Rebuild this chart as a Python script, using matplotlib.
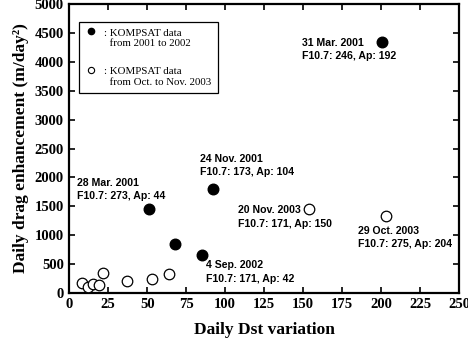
import matplotlib
matplotlib.use("Agg")
import numpy as np
import matplotlib.pyplot as plt
from matplotlib.lines import Line2D
from matplotlib.legend_handler import HandlerLine2D

# KOMPSAT 2001-2002 (filled)
dst_filled = [200.5, 51, 92, 68, 85]
drag_filled = [4350, 1460, 1800, 845, 660]
# KOMPSAT Oct-Nov 2003 (open)
dst_open = [8, 12, 15.5, 19, 21.5, 37, 53, 64, 154, 203]
drag_open = [165, 105, 150, 130, 350, 210, 235, 320, 1450, 1330]

# event labels: text, x, y (text anchor, data units)
labels = ["31 Mar. 2001\nF10.7: 246, Ap: 192",
          "28 Mar. 2001\nF10.7: 273, Ap: 44",
          "24 Nov. 2001\nF10.7: 173, Ap: 104",
          "20 Nov. 2003\nF10.7: 171, Ap: 150",
          "29 Oct. 2003\nF10.7: 275, Ap: 204",
          "4 Sep. 2002\nF10.7: 171, Ap: 42"]
label_x = [149.5, 5, 84, 108.5, 185, 87.8]
label_y = [4215, 1790, 2205, 1310, 960, 355]

serif = "Liberation Serif"
sans = "Liberation Sans"


# legend marker sits on the first text line, not the middle
class UpHandler(HandlerLine2D):
    def create_artists(self, legend, orig_handle, xdescent, ydescent, width,
                       height, fontsize, trans):
        arts = super().create_artists(legend, orig_handle, xdescent, ydescent,
                                      width, height, fontsize, trans)
        for a in arts:
            a.set_ydata(np.asarray(a.get_ydata()) + 0.62 * fontsize)
        return arts


fig = plt.figure(figsize=(4.68, 3.38), dpi=100)
ax = fig.add_axes([0.148, 0.134, 0.833, 0.853])

ax.plot(dst_filled, drag_filled, "o", color="black", markersize=7.6, zorder=3)
ax.plot(dst_open, drag_open, "o", markerfacecolor="white", markeredgecolor="black",
        markersize=7.6, markeredgewidth=0.9, zorder=3)

for t, x, y in zip(labels, label_x, label_y):
    ax.text(x, y, t, family=sans, fontweight="bold", fontsize=7.6,
            ha="left", va="center", linespacing=1.45)

ax.set_xlim(0, 250)
ax.set_ylim(0, 5000)
ax.set_xticks(range(0, 251, 25))
ax.set_yticks(range(0, 5001, 500))
ax.tick_params(direction="in", top=True, right=True, length=4, width=1.2, pad=4)
for lab in ax.get_xticklabels() + ax.get_yticklabels():
    lab.set_family(serif)
    lab.set_fontweight("bold")
    lab.set_fontsize(10.5)
for s in ax.spines.values():
    s.set_linewidth(1.6)

ax.set_xlabel("Daily Dst variation", family=serif, fontweight="bold", fontsize=12.5, labelpad=8)
ax.set_ylabel("Daily drag enhancement (m/day\u00b2)", family=serif, fontweight="bold",
              fontsize=12.5, labelpad=4)

handles = [Line2D([], [], ls="none", marker="o", color="black", markersize=4.5),
           Line2D([], [], ls="none", marker="o", markerfacecolor="white",
                  markeredgecolor="black", markersize=4.5, markeredgewidth=0.8)]
leg = ax.legend(handles, [": KOMPSAT data\n  from 2001 to 2002",
                          ": KOMPSAT data\n  from Oct. to Nov. 2003"],
                loc="upper left", bbox_to_anchor=(0.026, 0.938), borderaxespad=0,
                prop={"family": serif, "size": 7.8}, fancybox=False, framealpha=1,
                edgecolor="black", handlelength=1.0, handletextpad=0.7,
                labelspacing=1.75, borderpad=0.6,
                handler_map={Line2D: UpHandler()})
leg.get_frame().set_linewidth(0.9)

fig.savefig("out.png", dpi=100)
